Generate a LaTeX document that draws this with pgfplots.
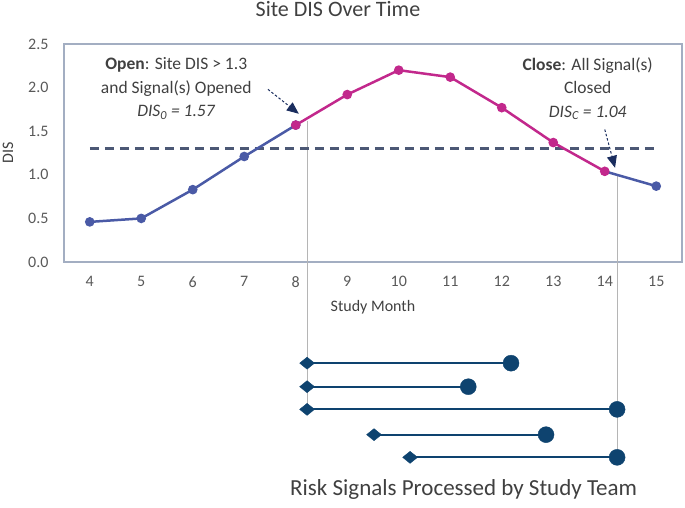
\documentclass[border=0pt]{standalone}
\usepackage{pgfplots}
\pgfplotsset{compat=1.18}
\usetikzlibrary{arrows.meta}
\usepackage{fontspec}
\setmainfont{Carlito}
\definecolor{lineblue}{HTML}{4A5AA6}
\definecolor{mag}{HTML}{C2288C}
\definecolor{framec}{HTML}{A3AEC2}
\definecolor{dashc}{HTML}{4C5875}
\definecolor{navy}{HTML}{0E436F}
\definecolor{txt}{HTML}{404040}
\definecolor{tickc}{HTML}{595959}
\definecolor{arrowc}{HTML}{1A2D5E}
\definecolor{vgray}{HTML}{B5B5B5}
\begin{document}
\begin{tikzpicture}
\useasboundingbox (-64pt,-245pt) rectangle (621pt,262pt);
\begin{axis}[at={(0pt,0pt)}, anchor=south west, scale only axis,
  width=618pt, height=218pt,
  xmin=3.5, xmax=15.5, ymin=0, ymax=2.5, clip=false,
  axis line style={framec, line width=1.5pt},
  xtick={4,...,15}, ytick={0,0.5,...,2.5},
  major tick length=0pt,
  tick label style={font=\fontsize{16}{18}\selectfont, text=tickc},
  /pgf/number format/assume math mode=true,
  yticklabel style={xshift=-12pt, /pgf/number format/fixed, /pgf/number format/fixed zerofill, /pgf/number format/precision=1},
  xticklabel style={yshift=-11pt}]
% vertical guide lines
\addplot[vgray, line width=1pt] coordinates {(8.22,1.62) (8.22,-1.69)};
\addplot[vgray, line width=1pt] coordinates {(14.24,1.00) (14.24,-2.24)};
% threshold
\addplot[dashc, line width=2.5pt, dash pattern=on 9pt off 6pt] coordinates {(4,1.3) (15,1.3)};
% DIS series
\addplot[lineblue, line width=2.5pt, mark=*, mark size=3.5pt, mark options={fill=lineblue, draw=lineblue}]
  coordinates {(4,0.46) (5,0.50) (6,0.83) (7,1.21) (8,1.57)};
\addplot[lineblue, line width=2.5pt, mark=*, mark size=3.5pt, mark indices={2}, mark options={fill=lineblue, draw=lineblue}]
  coordinates {(14,1.04) (15,0.87)};
\addplot[mag, line width=2.5pt, mark=*, mark size=3.5pt, mark options={fill=mag, draw=mag}]
  coordinates {(8,1.57) (9,1.92) (10,2.20) (11,2.12) (12,1.77) (13,1.37) (14,1.04)};
% risk signals
\addplot[navy, line width=2.2pt] coordinates {(8.22,-1.16) (12.18,-1.16)};
\addplot[navy, line width=2.2pt] coordinates {(8.22,-1.43) (11.35,-1.43)};
\addplot[navy, line width=2.2pt] coordinates {(8.22,-1.69) (14.24,-1.69)};
\addplot[navy, line width=2.2pt] coordinates {(9.52,-1.98) (12.86,-1.98)};
\addplot[navy, line width=2.2pt] coordinates {(10.22,-2.24) (14.24,-2.24)};
\addplot[only marks, mark=diamond*, mark size=6pt, mark options={xscale=1.65, fill=navy, draw=navy}]
  coordinates {(8.22,-1.16) (8.22,-1.43) (8.22,-1.69) (9.52,-1.98) (10.22,-2.24)};
\addplot[only marks, mark=*, mark size=8pt, mark options={fill=navy, draw=navy}]
  coordinates {(12.18,-1.16) (11.35,-1.43) (14.24,-1.69) (12.86,-1.98) (14.24,-2.24)};
% arrows
\draw[arrowc, line width=1pt, dash pattern=on 2.5pt off 2pt, -{Triangle[length=12pt,width=10pt]}]
  (axis cs:7.46,1.98) -- (axis cs:8.06,1.70);
\draw[arrowc, line width=1pt, dash pattern=on 2.5pt off 2pt, -{Triangle[length=12pt,width=10pt]}]
  (axis cs:14.0,1.52) -- (axis cs:14.2,1.08);
% texts
\node[txt, align=center, font=\fontsize{17.5}{23.5}\selectfont] at (axis cs:5.68,1.99)
  {\textbf{Open}: Site DIS > 1.3\\and Signal(s) Opened\\\textit{DIS\textsubscript{0} = 1.57}};
\node[txt, align=center, font=\fontsize{17.5}{23.5}\selectfont] at (axis cs:13.67,1.99)
  {\textbf{Close}: All Signal(s)\\Closed\\\textit{DIS\textsubscript{C} = 1.04}};
\node[txt, font=\fontsize{22}{24}\selectfont] at (axis cs:8.82,2.90) {Site DIS Over Time};
\node[txt, font=\fontsize{16}{18}\selectfont] at (axis cs:9.5,-0.52) {Study Month};
\node[txt, rotate=90, font=\fontsize{16}{18}\selectfont] at (rel axis cs:-0.0906,0.50) {DIS};
\node[txt, font=\fontsize{23}{26}\selectfont] at (axis cs:11.26,-2.61) {Risk Signals Processed by Study Team};
\end{axis}
\end{tikzpicture}
\end{document}
